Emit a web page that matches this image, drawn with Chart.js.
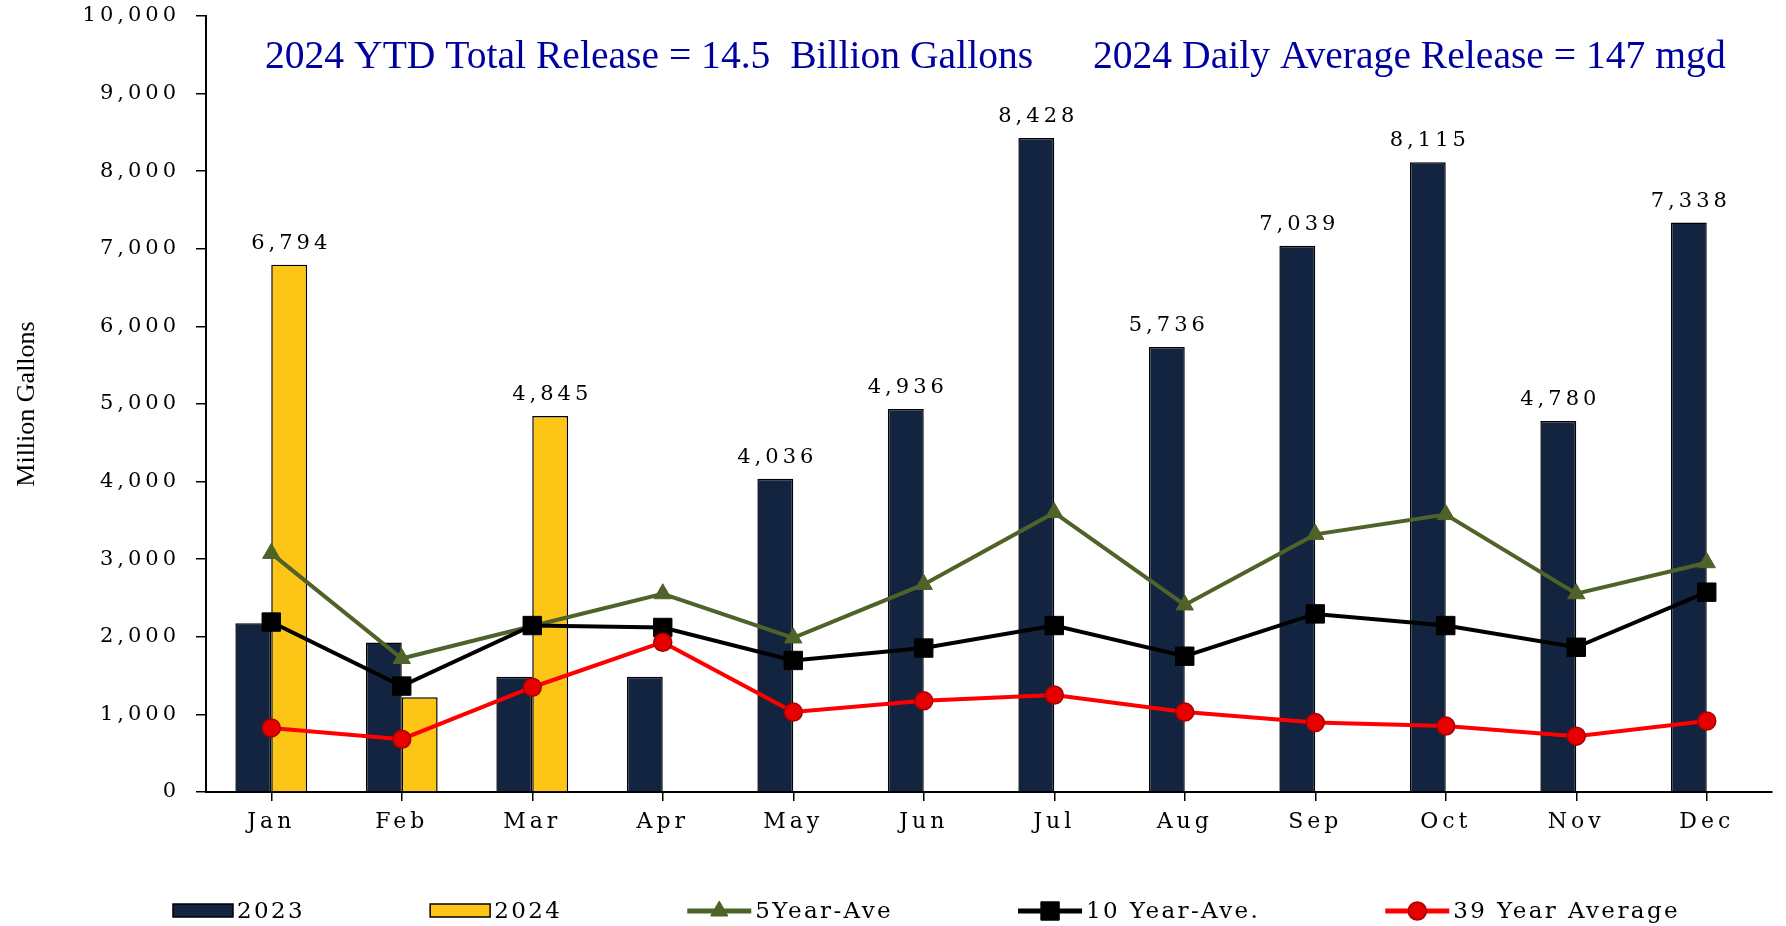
<!DOCTYPE html>
<html>
<head>
<meta charset="utf-8">
<script src="https://cdn.jsdelivr.net/npm/chart.js@4.4.1/dist/chart.umd.min.js"></script>
<style>
  html, body { margin: 0; padding: 0; background: #fff; }
  #wrap { width: 1786px; height: 926px; position: relative; }
</style>
</head>
<body>
<div id="wrap"><canvas id="releaseChart"></canvas></div>
<script>
// chart values
var months = ['Jan', 'Feb', 'Mar', 'Apr', 'May', 'Jun', 'Jul', 'Aug', 'Sep', 'Oct', 'Nov', 'Dec'];
var release2023 = [2175, 1925, 1485, 1485, 4036, 4936, 8428, 5736, 7039, 8115, 4780, 7338];
var release2024 = [6794, 1220, 4845, null, null, null, null, null, null, null, null, null];
var fiveYearAve = [3075, 1720, 2140, 2555, 1985, 2675, 3600, 2410, 3320, 3575, 2555, 2955];
var tenYearAve = [2190, 1365, 2145, 2120, 1695, 1855, 2145, 1750, 2295, 2145, 1865, 2575];
var avg39Year = [825, 680, 1350, 1930, 1030, 1175, 1250, 1030, 895, 850, 720, 915];
var yMin = 0, yMax = 10000, yStep = 1000;
var ytdText = '2024 YTD Total Release = 14.5  Billion Gallons';
var dailyText = '2024 Daily Average Release = 147 mgd';
var labelFrom = 4000;   // only the tall bars carry a value label

var navy = '#12243F';
var gold = '#FDC515';
var olive = '#4F6228';

// tick labels in the original are spread out; wrap drawLabels so only they get it
var spacedTicks = {
    id: 'spacedTicks',
    beforeDraw: function (chart) {
        ['x', 'y'].forEach(function (id) {
            var s = chart.scales[id];
            if (!s || s._spaced) return;
            var orig = s.drawLabels;
            s.drawLabels = function () {
                this.ctx.letterSpacing = '4px';
                orig.apply(this, arguments);
                this.ctx.letterSpacing = '0px';
            };
            s._spaced = true;
        });
    }
};

// value labels above the bars
var barLabels = {
    id: 'barLabels',
    afterDatasetsDraw: function (chart) {
        var ctx = chart.ctx;
        ctx.save();
        ctx.font = '21px "DejaVu Serif"';
        ctx.fillStyle = '#000';
        ctx.textAlign = 'center';
        ctx.textBaseline = 'bottom';
        ctx.letterSpacing = '4px';
        chart.data.datasets.forEach(function (ds, i) {
            if (ds.type !== 'bar') return;
            chart.getDatasetMeta(i).data.forEach(function (bar, j) {
                var v = ds.data[j];
                if (v == null || v < labelFrom) return;
                ctx.fillText(v.toLocaleString('en-US'), bar.x + 2, bar.y - 11);
            });
        });
        ctx.restore();
    }
};

// the two blue headline texts inside the plot
var headline = {
    id: 'headline',
    afterDraw: function (chart) {
        var ctx = chart.ctx, a = chart.chartArea;
        ctx.save();
        ctx.letterSpacing = '0px';
        ctx.font = '39.6px "Liberation Serif"';
        ctx.fillStyle = '#0000A0';
        ctx.textBaseline = 'alphabetic';
        ctx.fillText(ytdText, a.left + 59, a.top + 52);
        ctx.fillText(dailyText, a.left + 887, a.top + 52);
        ctx.restore();
    }
};

// legend along the bottom, line items show line + marker
var bottomLegend = {
    id: 'bottomLegend',
    afterDraw: function (chart) {
        var ctx = chart.ctx;
        var x = 173, y = 911, gap = 125;
        ctx.save();
        ctx.font = '23px "DejaVu Serif"';
        ctx.letterSpacing = '2.4px';
        ctx.textBaseline = 'middle';
        chart.data.datasets.forEach(function (ds) {
            if (ds.type === 'bar') {
                ctx.fillStyle = ds.backgroundColor;
                ctx.fillRect(x, y - 7, 60, 13);
                ctx.strokeStyle = '#000';
                ctx.lineWidth = 1.5;
                ctx.strokeRect(x, y - 7, 60, 13);
                x += 60;
            } else {
                ctx.strokeStyle = ds.borderColor;
                ctx.lineWidth = ds.borderWidth + 1;
                ctx.beginPath();
                ctx.moveTo(x, y);
                ctx.lineTo(x + 64, y);
                ctx.stroke();
                ctx.fillStyle = ds.pointBackgroundColor;
                ctx.strokeStyle = ds.pointBorderColor;
                ctx.lineWidth = ds.pointBorderWidth;
                Chart.helpers.drawPoint(ctx, {
                    pointStyle: ds.pointStyle, radius: ds.pointRadius,
                    borderWidth: ds.pointBorderWidth, rotation: 0
                }, x + 32, y);
                x += 64;
            }
            ctx.fillStyle = '#000';
            ctx.fillText(ds.label, x + 4, y + 1);
            x += 4 + ctx.measureText(ds.label).width + gap;
        });
        ctx.restore();
    }
};

var ctx = document.getElementById('releaseChart').getContext('2d');
new Chart(ctx, {
    data: {
        labels: months,
        datasets: [{
            type: 'bar',
            label: '2023',
            data: release2023,
            backgroundColor: navy,
            borderColor: '#000',
            borderWidth: 1.5,
            order: 4
        }, {
            type: 'bar',
            label: '2024',
            data: release2024,
            backgroundColor: gold,
            borderColor: '#000',
            borderWidth: 1.5,
            order: 5
        }, {
            type: 'line',
            label: '5Year-Ave',
            data: fiveYearAve,
            borderColor: olive,
            borderWidth: 4,
            pointStyle: 'triangle',
            pointRadius: 10,
            pointBackgroundColor: olive,
            pointBorderColor: olive,
            pointBorderWidth: 1,
            tension: 0,
            order: 3
        }, {
            type: 'line',
            label: '10 Year-Ave.',
            data: tenYearAve,
            borderColor: '#000',
            borderWidth: 4,
            pointStyle: 'rect',
            pointRadius: 13,
            pointBackgroundColor: '#000',
            pointBorderColor: '#000',
            pointBorderWidth: 1,
            tension: 0,
            order: 2
        }, {
            type: 'line',
            label: '39 Year Average',
            data: avg39Year,
            borderColor: '#FF0000',
            borderWidth: 4,
            pointStyle: 'circle',
            pointRadius: 9,
            pointBackgroundColor: '#E60000',
            pointBorderColor: '#A80000',
            pointBorderWidth: 1.5,
            tension: 0,
            order: 1
        }]
    },
    options: {
        responsive: true,
        maintainAspectRatio: false,
        animation: false,
        layout: { padding: { top: 16, right: 11, bottom: 74, left: 0 } },
        datasets: { bar: { categoryPercentage: 0.55, barPercentage: 1 } },
        plugins: {
            legend: { display: false },
            tooltip: { enabled: false }
        },
        scales: {
            x: {
                grid: { display: true, drawOnChartArea: false, offset: false, color: '#000', tickLength: 9, lineWidth: 1.5 },
                border: { color: '#000', width: 2 },
                ticks: { color: '#000', font: { family: 'DejaVu Serif', size: 22 }, padding: 8 },
                afterFit: function (scale) { scale.height = 60; }
            },
            y: {
                min: yMin,
                max: yMax,
                ticks: {
                    stepSize: yStep,
                    color: '#000',
                    font: { family: 'DejaVu Serif', size: 21 },
                    padding: 16,
                    callback: function (v) { return v.toLocaleString('en-US'); }
                },
                grid: { display: true, drawOnChartArea: false, color: '#000', tickLength: 10, lineWidth: 1.5 },
                border: { color: '#000', width: 2 },
                title: {
                    display: true,
                    text: 'Million Gallons',
                    color: '#000',
                    font: { family: 'Liberation Serif', size: 26 },
                    padding: { top: 12, bottom: 0 }
                },
                afterFit: function (scale) {
                    scale.width = 206;
                    scale.paddingTop = 0;
                    scale.paddingBottom = 0;
                }
            }
        }
    },
    plugins: [spacedTicks, barLabels, headline, bottomLegend]
});
</script>
</body>
</html>
